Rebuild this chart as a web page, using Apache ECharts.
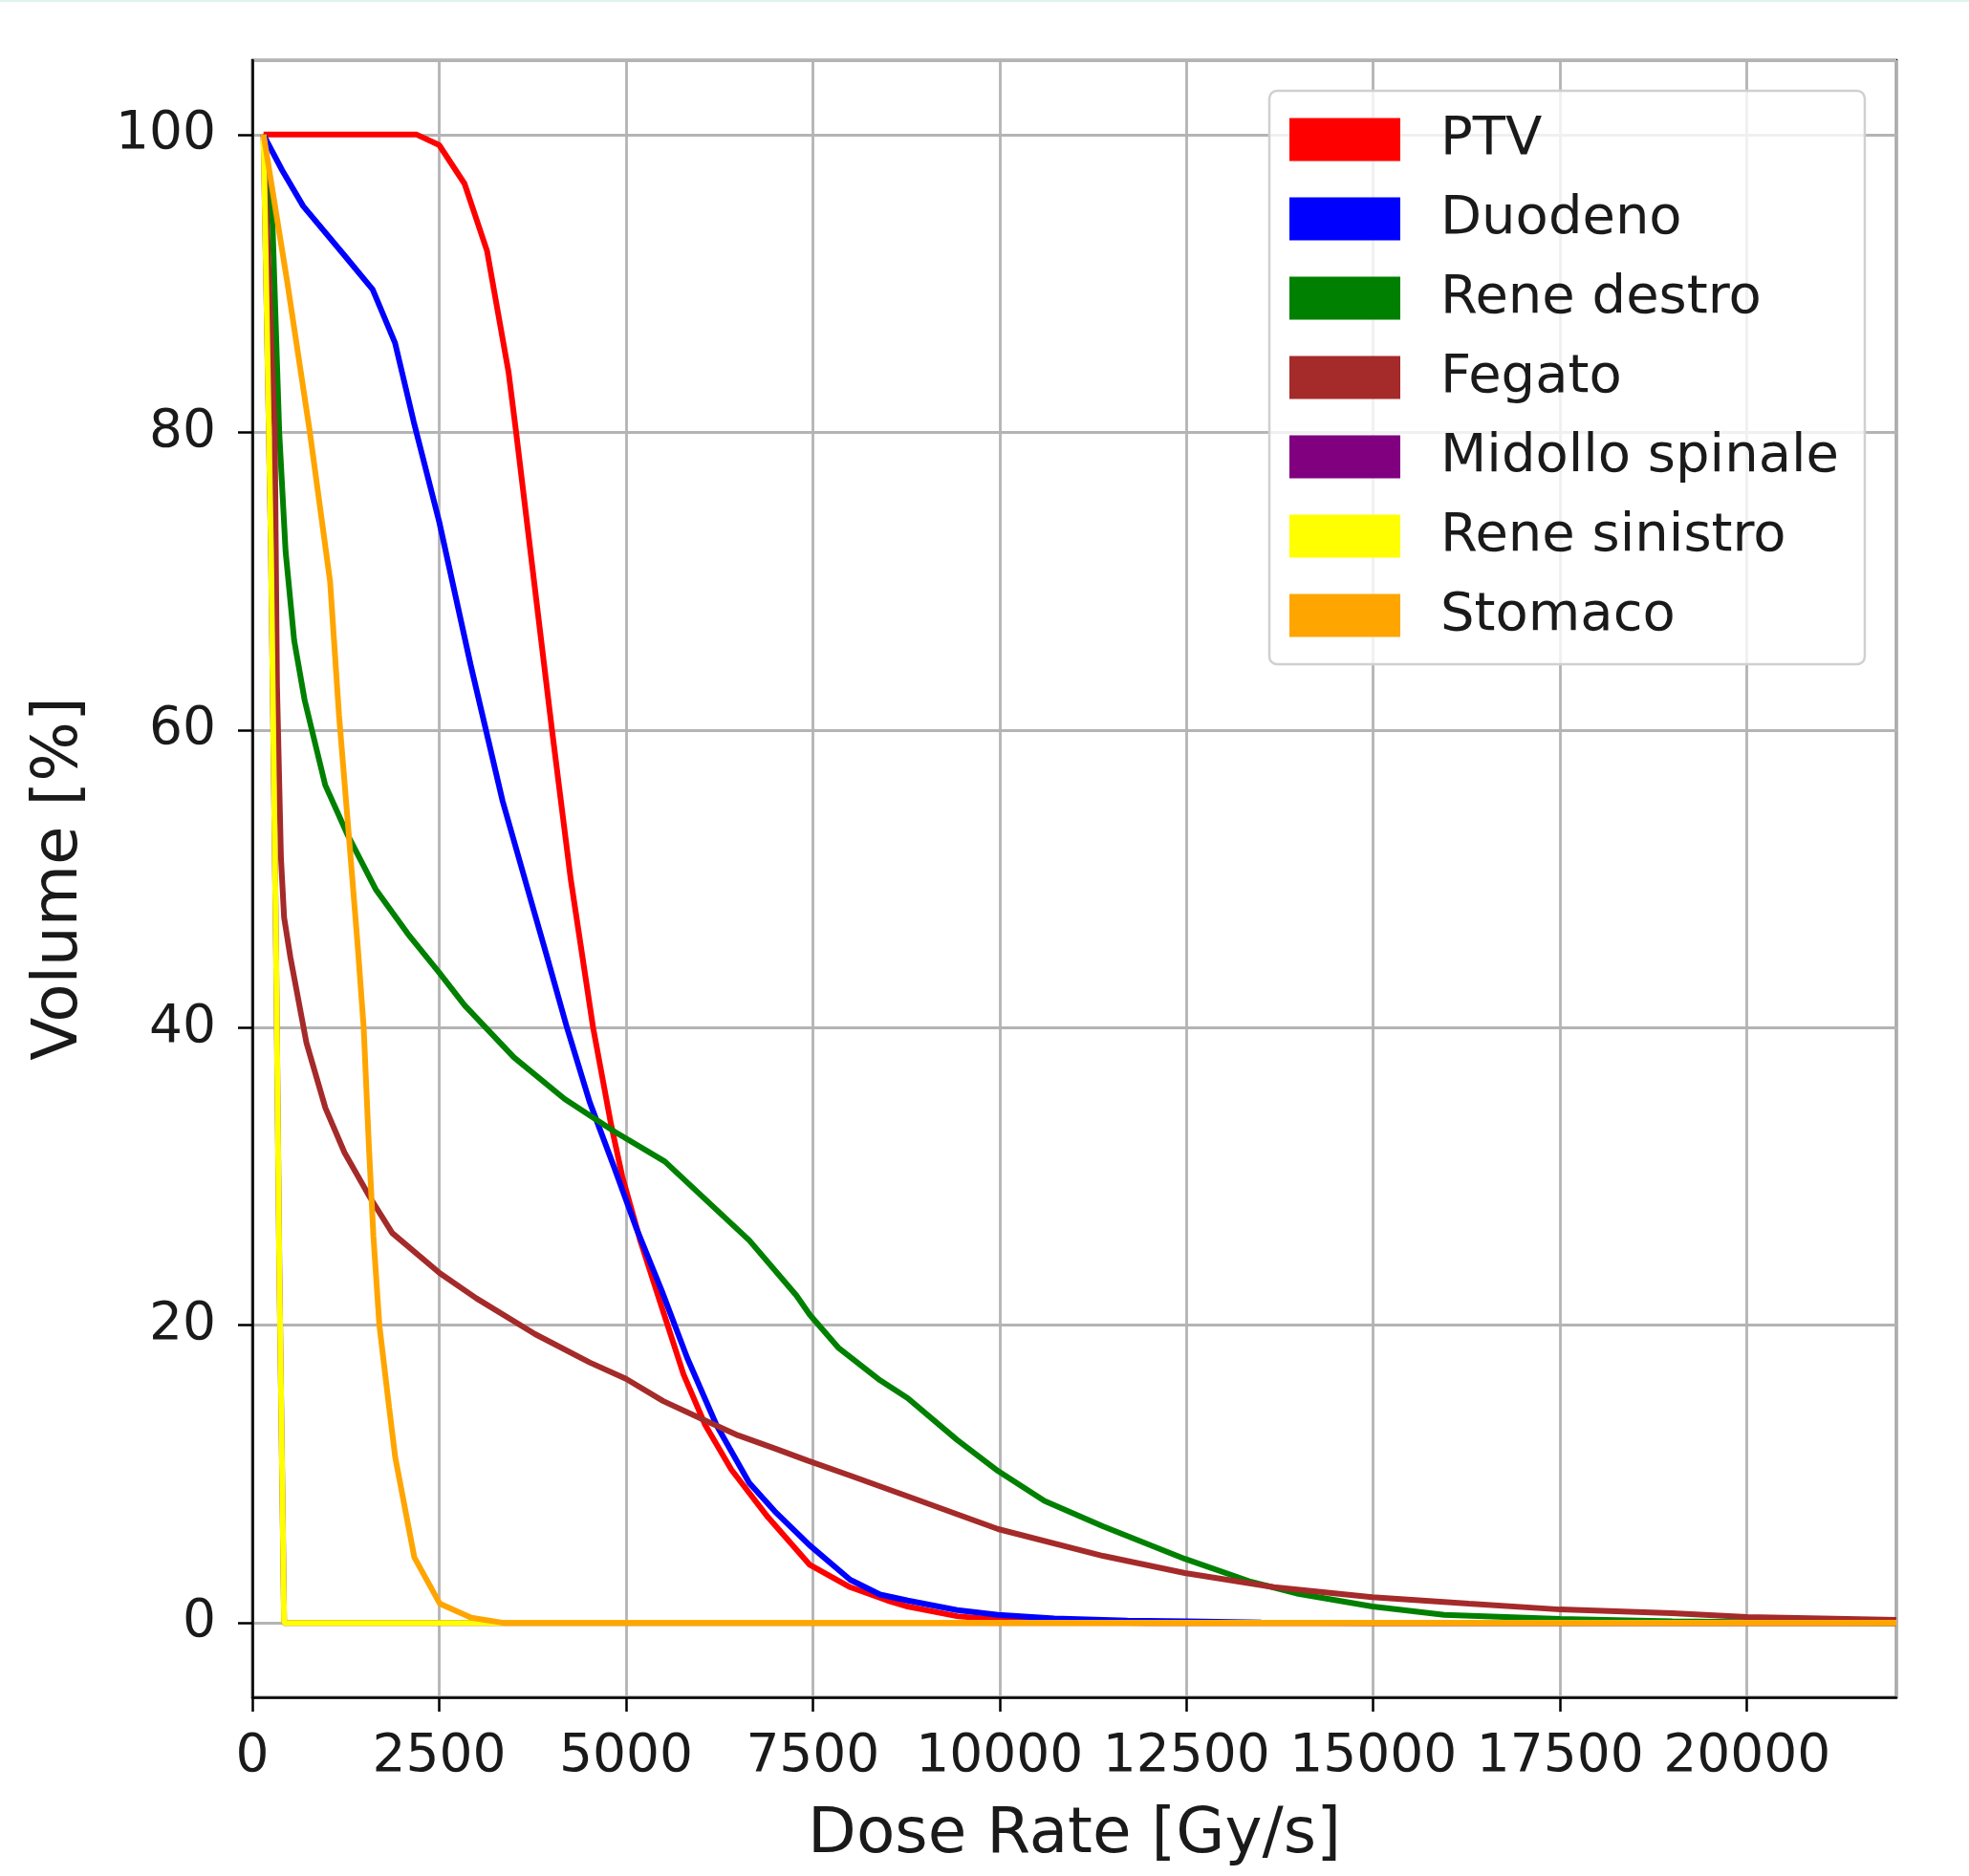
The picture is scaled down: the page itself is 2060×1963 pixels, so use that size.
<!DOCTYPE html>
<html><head><meta charset="utf-8">
<script src="https://cdn.jsdelivr.net/npm/echarts@6/dist/echarts.min.js"></script>
<style>html,body{margin:0;padding:0;background:#fff}#c{width:2060px;height:1963px}</style>
</head><body><div id="c"></div>
<script>
const seriesNames = ['PTV', 'Duodeno', 'Rene destro', 'Fegato', 'Midollo spinale', 'Rene sinistro', 'Stomaco'];
const seriesColors = ['#ff0000', '#0000ff', '#008000', '#a52a2a', '#800080', '#ffff00', '#ffa500'];

const ptv = [[150,100],[2200,100],[2500,99.3],[2840,96.7],[3140,92.2],[3430,84],[3530,80],[4010,60],[4260,50],[4560,40],[4800,33.5],[4950,30],[5190,25.7],[5480,21.2],[5770,16.7],[6060,13.3],[6410,10.3],[6900,7.1],[7460,3.9],[8000,2.4],[8500,1.5],[8770,1.1],[9430,0.45],[10000,0.2],[11000,0.05],[12000,0],[22000,0]];
const duodeno = [[150,100],[200,99.5],[400,97.6],[680,95.2],[1230,91.9],[1610,89.6],[1910,86],[2160,80.7],[2500,74],[2920,64.4],[3350,55.2],[3770,47.8],[3930,45],[4210,40],[4514,35],[4850,30.5],[5140,26.5],[5480,22.3],[5820,17.8],[6210,13.3],[6650,9.4],[6990,7.5],[7460,5.2],[8000,2.9],[8400,1.9],[8770,1.5],[9430,0.86],[9980,0.54],[10730,0.3],[11710,0.15],[12500,0.1],[13500,0.03],[15000,0],[22000,0]];
const reneDestro = [[150,100],[270,94],[360,80],[445,72],[560,66],[700,62],[975,56.3],[1270,53],[1650,49.3],[2080,46.3],[2500,43.7],[2840,41.5],[3500,38],[4180,35.2],[4850,33],[5520,31],[6160,28],[6650,25.7],[7280,22],[7460,20.7],[7840,18.5],[8400,16.3],[8770,15.1],[9430,12.3],[9980,10.2],[10600,8.2],[11380,6.5],[12480,4.3],[13340,2.8],[14000,1.95],[14990,1.1],[15950,0.54],[17500,0.26],[19000,0.1],[20500,0.03],[22000,0]];
const fegato = [[150,100],[300,80],[330,63],[383,51.4],[425,47.4],[510,44.7],[723,39],[978,34.6],[1233,31.6],[1573,28.6],[1871,26.2],[2509,23.5],[3000,21.8],[3784,19.4],[4514,17.5],[5000,16.4],[5500,14.9],[6015,13.7],[6500,12.6],[7000,11.7],[7432,10.9],[8000,9.9],[8772,8.5],[9980,6.3],[11383,4.5],[12480,3.35],[13668,2.4],[14986,1.73],[16279,1.3],[17500,0.9],[19000,0.65],[20000,0.4],[22000,0.2]];
const midolloSpinale = [[150,100],[250,72],[318,45],[361,24],[404,8],[425,0],[22000,0]];
const reneSinistro = [[150,100],[250,72],[318,45],[361,24],[404,8],[425,0],[22000,0]];
const stomaco = [[150,100],[470,90],[770,80],[1040,70],[1160,61],[1290,53],[1410,45.5],[1490,40],[1560,32],[1620,26],[1700,20],[1830,14.5],[1913,11.1],[2168,4.4],[2508,1.3],[2930,0.35],[3360,0],[22000,0]];
const seriesData = [ptv, duodeno, reneDestro, fegato, midolloSpinale, reneSinistro, stomaco];

const xTickLabels = [0, 2500, 5000, 7500, 10000, 12500, 15000, 17500, 20000];
const yTickLabels = [0, 20, 40, 60, 80, 100];

const FONT = 'DejaVu Sans';
const chart = echarts.init(document.getElementById('c'), null, {renderer: 'canvas'});
chart.setOption({
  animation: false,
  backgroundColor: '#ffffff',
  graphic: [{type: 'rect', shape: {x: 0, y: 0, width: 2060, height: 2}, style: {fill: '#dff3ee'}, silent: true}],
  grid: {left: 264, top: 63, right: 76, bottom: 187, show: true, borderColor: '#000', borderWidth: 2.5, backgroundColor: 'transparent'},
  legend: {
    orient: 'vertical', left: 1328, top: 95,
    padding: [23, 27, 23, 21],
    itemWidth: 116, itemHeight: 45, itemGap: 27,
    icon: 'rect',
    backgroundColor: 'rgba(255,255,255,0.8)', borderColor: '#d0d0d0', borderWidth: 2.5, borderRadius: 8,
    textStyle: {fontFamily: FONT, fontSize: 56, color: '#1a1a1a', lineHeight: 45, padding: [0, 0, 0, 37]},
    data: seriesNames
  },
  xAxis: {
    type: 'value', min: 0, max: 22000, interval: 2500,
    name: 'Dose Rate [Gy/s]', nameLocation: 'middle', nameGap: 112,
    nameTextStyle: {fontFamily: FONT, fontSize: 66, color: '#1a1a1a'},
    axisLine: {show: true, onZero: false, lineStyle: {color: '#000', width: 2.5}},
    axisTick: {show: true, inside: false, length: 15, lineStyle: {color: '#000', width: 2.5}},
    axisLabel: {fontFamily: FONT, fontSize: 55, color: '#1a1a1a', margin: 35, showMaxLabel: false,
      formatter: v => xTickLabels.indexOf(v) >= 0 ? String(v) : ''},
    splitLine: {show: true, lineStyle: {color: '#b4b4b4', width: 2.8}}
  },
  yAxis: {
    type: 'value', min: -5, max: 105, splitNumber: 5,
    name: 'Volume [%]', nameLocation: 'middle', nameGap: 168, nameRotate: 90,
    nameTextStyle: {fontFamily: FONT, fontSize: 66, color: '#1a1a1a'},
    axisLine: {show: true, onZero: false, lineStyle: {color: '#000', width: 2.5}},
    axisTick: {show: true, inside: false, length: 15, lineStyle: {color: '#000', width: 2.5}},
    axisLabel: {fontFamily: FONT, fontSize: 55, color: '#1a1a1a', margin: 38, showMinLabel: false, showMaxLabel: false,
      formatter: v => yTickLabels.indexOf(v) >= 0 ? String(v) : ''},
    splitLine: {show: true, lineStyle: {color: '#b4b4b4', width: 2.8}}
  },
  series: seriesNames.map((n, i) => ({
    name: n, type: 'line', data: seriesData[i], showSymbol: false, symbol: 'none',
    itemStyle: {color: seriesColors[i]},
    lineStyle: {color: seriesColors[i], width: 6},
    z: 2 + i
  }))
});
</script></body></html>
